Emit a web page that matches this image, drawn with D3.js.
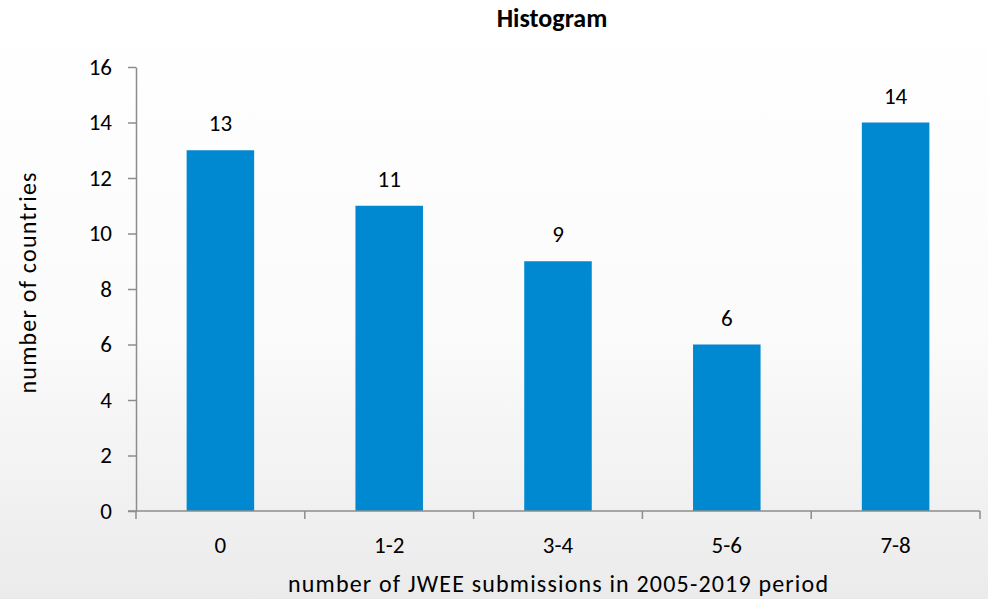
<!DOCTYPE html>
<html>
<head>
<meta charset="utf-8">
<script src="https://cdnjs.cloudflare.com/ajax/libs/d3/7.8.5/d3.min.js"></script>
<style>
  html, body { margin: 0; padding: 0; }
  body { width: 988px; height: 599px; overflow: hidden; }
  text { font-family: Carlito, Lato, "Open Sans", sans-serif; fill: #000; }
</style>
</head>
<body>
<svg id="chart" width="988" height="599"></svg>
<script>
let categories = ['0', '1-2', '3-4', '5-6', '7-8'];
let counts = [13, 11, 9, 6, 14];
let yTicks = [0, 2, 4, 6, 8, 10, 12, 14, 16];

let svg = d3.select('#chart');

// soft vertical gradient behind everything
let grad = svg.append('defs').append('linearGradient')
  .attr('id', 'bg').attr('x1', 0).attr('y1', 0).attr('x2', 0).attr('y2', 1);
grad.append('stop').attr('offset', '0%').attr('stop-color', '#ffffff');
grad.append('stop').attr('offset', '55%').attr('stop-color', '#fbfbfb');
grad.append('stop').attr('offset', '100%').attr('stop-color', '#ebebeb');
svg.append('rect').attr('width', 988).attr('height', 599).attr('fill', 'url(#bg)');

let plotLeft = 136, plotRight = 980, plotTop = 67, plotBottom = 511;

let x = d3.scaleBand().domain(categories).range([plotLeft, plotRight]).paddingInner(0.6).paddingOuter(0.3);
let xOuter = d3.scaleBand().domain(categories).range([plotLeft, plotRight]);
let y = d3.scaleLinear().domain([0, 16]).range([plotBottom, plotTop]);

// y axis
let yAxis = svg.append('g')
  .attr('transform', 'translate(' + plotLeft + ',0)')
  .call(d3.axisLeft(y).tickValues(yTicks).tickSize(8).tickPadding(16).tickSizeOuter(0));
yAxis.attr('font-family', null).attr('font-size', null);
yAxis.select('.domain').attr('stroke', '#8c8c8c').attr('stroke-width', 1.5);
yAxis.selectAll('.tick line').attr('stroke', '#8c8c8c').attr('stroke-width', 1.5);
yAxis.selectAll('.tick text').attr('font-size', 23).attr('fill', '#000');

// bars
svg.selectAll('rect.bar')
  .data(counts)
  .join('rect')
  .attr('class', 'bar')
  .attr('x', (d, i) => x(categories[i]))
  .attr('width', x.bandwidth())
  .attr('y', d => y(d))
  .attr('height', d => y(0) - y(d))
  .attr('fill', '#0088d1');

// value labels
svg.selectAll('text.value')
  .data(counts)
  .join('text')
  .attr('class', 'value')
  .attr('x', (d, i) => x(categories[i]) + x.bandwidth() / 2)
  .attr('y', d => y(d) - 19)
  .attr('text-anchor', 'middle')
  .attr('font-size', 23)
  .text(d => d);

// x axis: ticks between categories, pointing down
let xAxis = svg.append('g').attr('transform', 'translate(0,' + plotBottom + ')');
xAxis.append('line')
  .attr('x1', plotLeft - 8).attr('x2', plotRight)
  .attr('stroke', '#8c8c8c').attr('stroke-width', 1.5);
let bounds = categories.map(c => xOuter(c)).concat([plotRight]);
xAxis.selectAll('line.tick')
  .data(bounds)
  .join('line')
  .attr('class', 'tick')
  .attr('x1', d => d).attr('x2', d => d)
  .attr('y1', 0).attr('y2', 8)
  .attr('stroke', '#8c8c8c').attr('stroke-width', 1.5);
xAxis.selectAll('text')
  .data(categories)
  .join('text')
  .attr('x', d => xOuter(d) + xOuter.bandwidth() / 2)
  .attr('y', 42)
  .attr('text-anchor', 'middle')
  .attr('font-size', 23)
  .text(d => d);

// title and axis labels
svg.append('text')
  .attr('x', 552).attr('y', 27)
  .attr('text-anchor', 'middle')
  .attr('font-size', 26).attr('font-weight', 'bold')
  .text('Histogram');

svg.append('text')
  .attr('x', 558).attr('y', 592)
  .attr('text-anchor', 'middle')
  .attr('font-size', 24)
  .attr('textLength', 540).attr('lengthAdjust', 'spacing')
  .text('number of JWEE submissions in 2005-2019 period');

svg.append('text')
  .attr('transform', 'translate(36,283) rotate(-90)')
  .attr('text-anchor', 'middle')
  .attr('font-size', 24)
  .attr('textLength', 221).attr('lengthAdjust', 'spacing')
  .text('number of countries');
</script>
</body>
</html>
